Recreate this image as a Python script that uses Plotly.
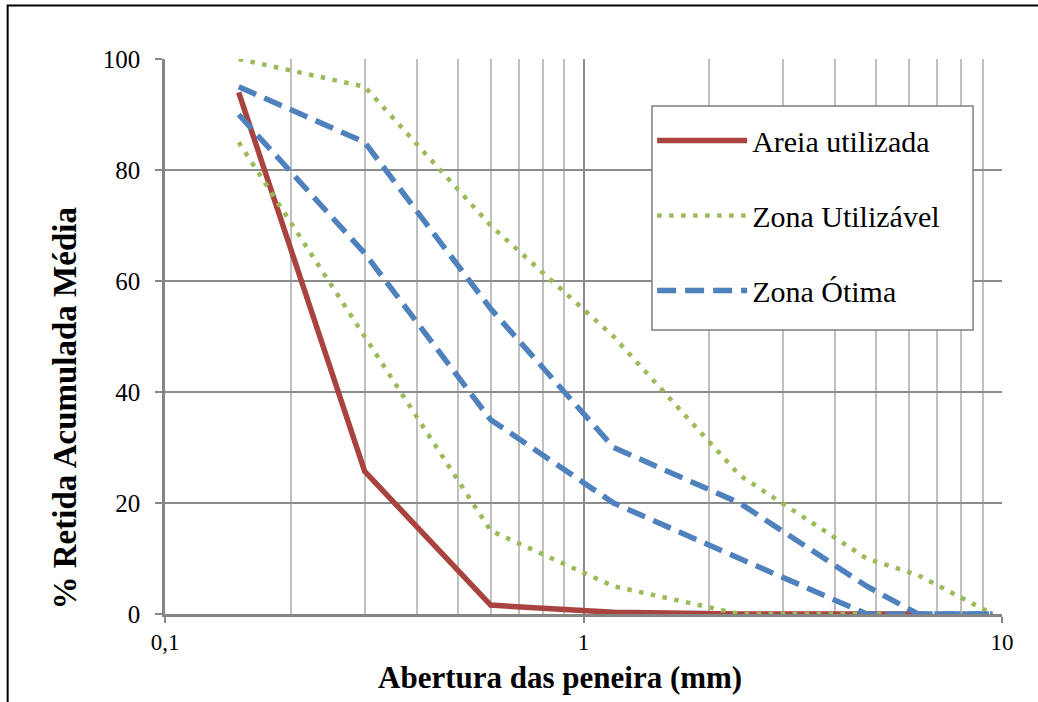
import plotly.graph_objects as go

# sieve openings (mm)
sieves = [0.15, 0.3, 0.6, 1.18, 2.36, 4.75, 6.3, 9.5]

areia = [94, 25.7, 1.6, 0.3, 0, 0, 0]
areia_x = sieves[:7]

util_sup = [100, 95, 70, 50, 25, 10, 7, 0]
util_inf = [85, 50, 15, 5, 0, 0, 0, 0]
otima_sup = [95, 85, 55, 30, 20, 5, 0, 0]
otima_inf = [90, 65, 35, 20, 10, 0, 0, 0]

x_major = [0.1, 1, 10]
x_major_text = ["0,1", "1", "10"]
x_minor = [0.2, 0.3, 0.4, 0.5, 0.6, 0.7, 0.8, 0.9, 2, 3, 4, 5, 6, 7, 8, 9]
y_ticks = [0, 20, 40, 60, 80, 100]

x_title = "<b>Abertura das peneira (mm)</b>"
y_title = "<b>% Retida Acumulada Média</b>"

RED = "#A8433F"
GREEN = "#9BBB59"
BLUE = "#4F81BD"
FONT = "Liberation Serif, Times New Roman, serif"

fig = go.Figure()
fig.add_trace(go.Scatter(x=areia_x, y=areia, mode="lines", name="Areia utilizada",
                         line=dict(color=RED, width=5.5), legendgroup="a"))
fig.add_trace(go.Scatter(x=sieves, y=util_sup, mode="lines", name="Zona Utilizável",
                         line=dict(color=GREEN, width=4.5, dash="4.5px,7.5px"), legendgroup="u"))
fig.add_trace(go.Scatter(x=sieves, y=util_inf, mode="lines", name="Zona Utilizável",
                         line=dict(color=GREEN, width=4.5, dash="4.5px,7.5px"), legendgroup="u",
                         showlegend=False))
fig.add_trace(go.Scatter(x=sieves, y=otima_sup, mode="lines", name="Zona Ótima",
                         line=dict(color=BLUE, width=5.5, dash="19px,9px"), legendgroup="o"))
fig.add_trace(go.Scatter(x=sieves, y=otima_inf, mode="lines", name="Zona Ótima",
                         line=dict(color=BLUE, width=5.5, dash="19px,9px"), legendgroup="o",
                         showlegend=False))

fig.update_layout(
    width=1038, height=702,
    margin=dict(l=165, r=36, t=59, b=88),
    paper_bgcolor="white", plot_bgcolor="white",
    font=dict(family=FONT, color="black", size=24),
    legend=dict(x=0.582, y=0.9, xanchor="left", yanchor="top",
                bgcolor="rgba(0,0,0,0)", borderwidth=0,
                font=dict(family=FONT, size=30, color="black"), tracegroupgap=33,
                itemwidth=90),
    xaxis=dict(type="log", range=[-1, 1],
               tickmode="array", tickvals=x_major, ticktext=x_major_text,
               ticks="outside", ticklen=6, tickcolor="#868686", tickwidth=2,
               showgrid=True, gridcolor="#8C8C8C", gridwidth=1.5,
               showline=True, linecolor="#868686", linewidth=2.5,
               minor=dict(tickmode="array", tickvals=x_minor, showgrid=True,
                          gridcolor="#C0C0C0", gridwidth=1.5, ticks=""),
               tickfont=dict(family=FONT, size=23, color="black"),
               ticklabelstandoff=0,
               zeroline=False),
    yaxis=dict(range=[0, 100], tickmode="array", tickvals=y_ticks,
               ticks="outside", ticklen=7, tickcolor="#868686", tickwidth=2,
               showgrid=True, gridcolor="#8C8C8C", gridwidth=1.5,
               showline=True, linecolor="#868686", linewidth=2.5,
               tickfont=dict(family=FONT, size=25, color="black"),
               ticklabelstandoff=10,
               zeroline=False),
    annotations=[
        dict(text=x_title, xref="paper", yref="paper", x=0.4725, y=-0.1153,
             xanchor="center", yanchor="middle", showarrow=False,
             font=dict(family=FONT, size=31, color="black")),
        dict(text=y_title, xref="paper", yref="paper", x=-0.119, y=0.371,
             xanchor="center", yanchor="middle", showarrow=False, textangle=-90,
             font=dict(family=FONT, size=33, color="black")),
    ],
    shapes=[
        dict(type="rect", xref="paper", yref="paper",
             x0=-0.188, x1=1.2, y0=-0.3, y1=1.0964,
             line=dict(color="black", width=2), layer="below"),
        dict(type="rect", xref="paper", yref="paper",
             x0=0.5818, x1=0.9654, y0=0.5117, y1=0.9153,
             line=dict(color="#7F7F7F", width=1.5), fillcolor="white", layer="above"),
    ],
    showlegend=True,
)

fig.write_html("out.html")
